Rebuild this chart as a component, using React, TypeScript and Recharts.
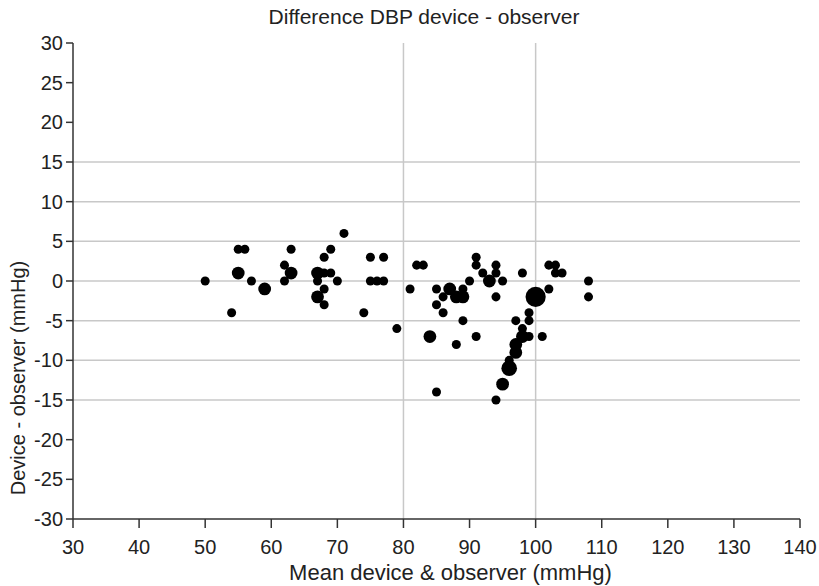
import {
  ScatterChart,
  Scatter,
  XAxis,
  YAxis,
  ZAxis,
  ReferenceLine,
} from 'recharts';

// mean of device & observer (mmHg)
const meanValues = [
  50, 54, 55, 56, 55, 57, 59, 62, 62, 63, 63, 67, 68, 69, 67, 70, 68, 69, 67, 68,
  68, 71, 74, 75, 77, 75, 76, 77, 79, 81, 82, 83, 84, 85, 85, 86, 86, 87, 88, 89,
  89, 88, 89, 90, 85, 91, 91, 92, 91, 93, 94, 94, 94, 95, 94, 95, 96, 96, 97, 97,
  98, 98, 97, 99, 99, 99, 98, 100, 101, 102, 102, 103, 103, 104, 108, 108,
];
// device - observer (mmHg)
const diffValues = [
  0, -4, 4, 4, 1, 0, -1, 2, 0, 4, 1, 1, 1, 1, 0, 0, 3, 4, -2, -1,
  -3, 6, -4, 3, 3, 0, 0, 0, -6, -1, 2, 2, -7, -1, -3, -2, -4, -1, -2, -2,
  -1, -8, -5, 0, -14, 3, 2, 1, -7, 0, 2, 1, -2, 0, -15, -13, -11, -10, -9, -8,
  -7, -6, -5, -5, -4, -7, 1, -2, -7, -1, 2, 2, 1, 1, 0, -2,
];
// number of overlapping observations at each point
const counts = [
  1, 1, 1, 1, 2, 1, 2, 1, 1, 1, 2, 2, 1, 1, 1, 1, 1, 1, 2, 1,
  1, 1, 1, 1, 1, 1, 1, 1, 1, 1, 1, 1, 2, 1, 1, 1, 1, 2, 2, 2,
  1, 1, 1, 1, 1, 1, 1, 1, 1, 2, 1, 1, 1, 1, 1, 2, 3, 1, 2, 2,
  2, 1, 1, 1, 1, 1, 1, 5, 1, 1, 1, 1, 1, 1, 1, 1,
];

const xTicks = [30, 40, 50, 60, 70, 80, 90, 100, 110, 120, 130, 140];
const yTicks = [30, 25, 20, 15, 10, 5, 0, -5, -10, -15, -20, -25, -30];
const gridY = [15, 10, 5, 0, -5, -10, -15];
const gridX = [80, 100];

const data = meanValues.map((x, i) => ({ x, y: diffValues[i], n: counts[i] }));

const FONT = '"Liberation Sans", Arial, sans-serif';
const TEXT = '#222';

const XLabel = ({ viewBox }: any) => (
  <text
    x={viewBox.x + viewBox.width / 2 + 14}
    y={580}
    textAnchor="middle"
    fill={TEXT}
    fontSize={22}
    fontFamily={FONT}
  >
    Mean device & observer (mmHg)
  </text>
);

const YLabel = () => (
  <text
    x={18}
    y={378}
    transform="rotate(-90, 18, 378)"
    textAnchor="middle"
    dominantBaseline="central"
    fill={TEXT}
    fontSize={20}
    fontFamily={FONT}
  >
    Device - observer (mmHg)
  </text>
);

export default function App() {
  return (
    <div style={{ position: 'absolute', left: 0, top: 0, width: 819, height: 586, background: '#fff', fontFamily: FONT }}>
      <div
        style={{
          position: 'absolute',
          top: 5,
          left: 0,
          width: 848,
          textAlign: 'center',
          fontSize: 21,
          color: TEXT,
        }}
      >
        Difference DBP device - observer
      </div>
      <ScatterChart width={819} height={586} margin={{ top: 43, right: 19, bottom: 0, left: 0 }}>
        {gridY.map((v) => (
          <ReferenceLine key={'gy' + v} y={v} stroke="#c8c8c8" strokeWidth={1.5} />
        ))}
        {gridX.map((v) => (
          <ReferenceLine key={'gx' + v} x={v} stroke="#c8c8c8" strokeWidth={1.5} />
        ))}
        <XAxis
          type="number"
          dataKey="x"
          domain={[30, 140]}
          ticks={xTicks}
          interval={0}
          height={67}
          tickSize={9}
          tickMargin={12}
          stroke="#333"
          strokeWidth={1.5}
          tick={{ fill: TEXT, fontSize: 20, fontFamily: FONT }}
          label={<XLabel />}
        />
        <YAxis
          type="number"
          dataKey="y"
          domain={[-30, 30]}
          ticks={yTicks}
          interval={0}
          width={73}
          tickSize={7}
          tickMargin={3}
          stroke="#333"
          strokeWidth={1.5}
          tick={{ fill: TEXT, fontSize: 20, fontFamily: FONT }}
          label={<YLabel />}
        />
        <ZAxis type="number" dataKey="n" domain={[1, 5]} range={[64, 320]} />
        <Scatter data={data} fill="#000" isAnimationActive={false} />
      </ScatterChart>
    </div>
  );
}
